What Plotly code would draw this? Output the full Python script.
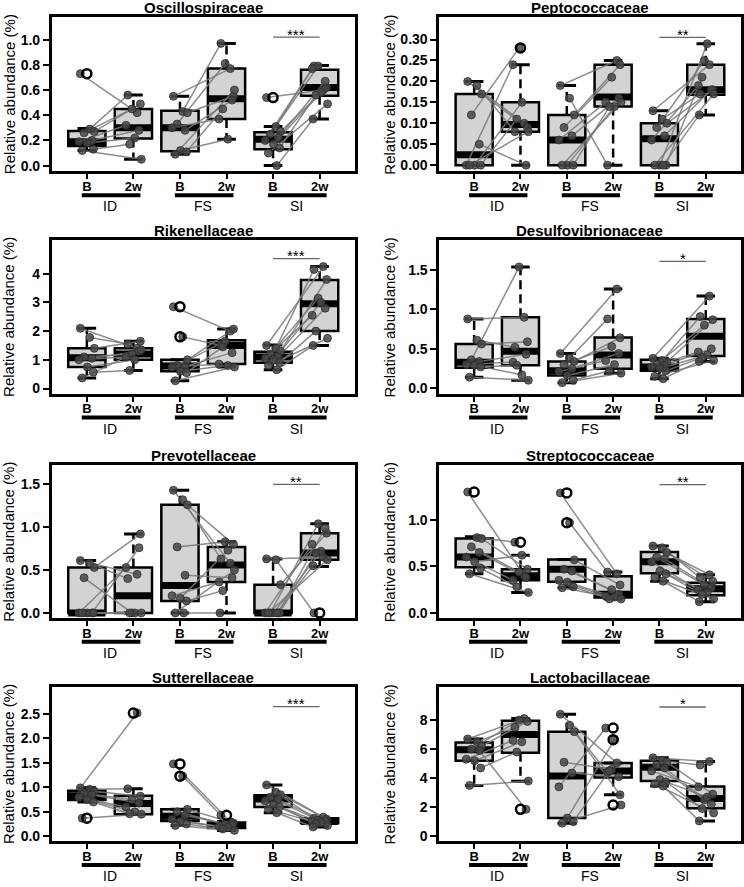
import plotly.graph_objects as go

# ---------------- data ----------------
GROUPS = ["ID", "FS", "SI"]
TICK_TEXT = ["B", "2w", "B", "2w", "B", "2w"]
TITLES = ["Oscillospiraceae", "Peptococcaceae", "Rikenellaceae", "Desulfovibrionaceae",
          "Prevotellaceae", "Streptococcaceae", "Sutterellaceae", "Lactobacillaceae"]
Y_LABEL = "Relative abundance (%)"

# Oscillospiraceae
OSC_ID_B = [0.73, 0.29, 0.27, 0.26, 0.20, 0.19, 0.18, 0.13, 0.12]
OSC_ID_2W = [0.42, 0.56, 0.49, 0.45, 0.28, 0.32, 0.22, 0.17, 0.05]
OSC_FS_B = [0.55, 0.43, 0.42, 0.33, 0.28, 0.30, 0.12, 0.11, 0.09]
OSC_FS_2W = [0.77, 0.97, 0.55, 0.81, 0.52, 0.37, 0.21, 0.45, 0.60]
OSC_SI_B = [0.54, 0.31, 0.27, 0.25, 0.22, 0.20, 0.17, 0.14, 0.10, 0.00]
OSC_SI_2W = [0.60, 0.79, 0.62, 0.79, 0.67, 0.77, 0.58, 0.56, 0.49, 0.37]
OSC_Q1 = [0.155, 0.215, 0.115, 0.37, 0.13, 0.555]
OSC_MED = [0.19, 0.30, 0.30, 0.53, 0.21, 0.62]
OSC_Q3 = [0.275, 0.45, 0.435, 0.77, 0.265, 0.76]
OSC_LO = [0.12, 0.05, 0.09, 0.21, 0.00, 0.37]
OSC_HI = [0.295, 0.56, 0.55, 0.97, 0.31, 0.795]
OSC_SIG_Y, OSC_SIG = 1.02, "***"
OSC_TICKS = [0.0, 0.2, 0.4, 0.6, 0.8, 1.0]

# Peptococcaceae
PEP_ID_B = [0.20, 0.19, 0.17, 0.12, 0.05, 0.0, 0.0, 0.0, 0.0]
PEP_ID_2W = [0.10, 0.08, 0.09, 0.28, 0.00, 0.24, 0.15, 0.11, 0.08]
PEP_FS_B = [0.19, 0.16, 0.12, 0.09, 0.07, 0.06, 0.0, 0.0, 0.0]
PEP_FS_2W = [0.25, 0.00, 0.24, 0.21, 0.16, 0.15, 0.14, 0.14, 0.15]
PEP_SI_B = [0.13, 0.11, 0.10, 0.09, 0.07, 0.06, 0.0, 0.0, 0.0, 0.0]
PEP_SI_2W = [0.24, 0.17, 0.18, 0.25, 0.18, 0.19, 0.29, 0.21, 0.17, 0.12]
PEP_Q1 = [0.0, 0.08, 0.0, 0.14, 0.0, 0.168]
PEP_MED = [0.025, 0.097, 0.06, 0.163, 0.063, 0.18]
PEP_Q3 = [0.17, 0.15, 0.12, 0.24, 0.10, 0.24]
PEP_LO = [0.0, 0.0, 0.0, 0.0, 0.0, 0.12]
PEP_HI = [0.20, 0.24, 0.19, 0.25, 0.13, 0.29]
PEP_SIG_Y, PEP_SIG = 0.305, "**"
PEP_TICKS = [0.0, 0.05, 0.10, 0.15, 0.20, 0.25, 0.30]

# Rikenellaceae
RIK_ID_B = [2.10, 1.78, 1.40, 1.10, 1.05, 1.00, 0.75, 0.57, 0.37]
RIK_ID_2W = [1.40, 1.55, 1.65, 1.20, 1.30, 1.10, 1.00, 0.63, 1.35]
RIK_FS_B = [2.85, 1.80, 1.00, 0.80, 0.77, 0.75, 0.60, 0.55, 0.27]
RIK_FS_2W = [2.00, 1.50, 2.07, 1.65, 1.25, 0.85, 0.80, 1.45, 0.75]
RIK_SI_B = [1.50, 1.40, 1.30, 1.20, 1.10, 1.05, 1.00, 0.90, 0.80, 0.65]
RIK_SI_2W = [4.25, 4.15, 3.80, 3.15, 2.80, 2.55, 3.00, 2.00, 1.75, 1.50]
RIK_Q1 = [0.75, 1.00, 0.60, 0.85, 0.90, 2.00]
RIK_MED = [1.07, 1.20, 0.78, 1.50, 1.10, 2.95]
RIK_Q3 = [1.40, 1.40, 1.00, 1.68, 1.28, 3.78]
RIK_LO = [0.37, 0.63, 0.27, 0.75, 0.65, 1.50]
RIK_HI = [2.10, 1.65, 1.00, 2.07, 1.52, 4.25]
RIK_SIG_Y, RIK_SIG = 4.53, "***"
RIK_TICKS = [0, 1, 2, 3, 4]

# Desulfovibrionaceae
DES_ID_B = [0.88, 0.61, 0.56, 0.36, 0.34, 0.30, 0.29, 0.27, 0.14]
DES_ID_2W = [0.90, 0.52, 0.59, 1.54, 0.43, 0.33, 0.17, 0.29, 0.10]
DES_FS_B = [0.44, 0.38, 0.34, 0.30, 0.25, 0.21, 0.16, 0.10, 0.07]
DES_FS_2W = [1.26, 0.88, 0.64, 0.53, 0.44, 0.35, 0.30, 0.22, 0.19]
DES_SI_B = [0.38, 0.35, 0.33, 0.30, 0.29, 0.27, 0.25, 0.22, 0.15, 0.12]
DES_SI_2W = [1.17, 0.91, 0.87, 0.80, 0.50, 0.46, 0.42, 0.39, 0.35, 0.34]
DES_Q1 = [0.26, 0.29, 0.16, 0.245, 0.22, 0.41]
DES_MED = [0.33, 0.47, 0.22, 0.42, 0.27, 0.66]
DES_Q3 = [0.56, 0.90, 0.34, 0.645, 0.36, 0.88]
DES_LO = [0.14, 0.10, 0.07, 0.19, 0.12, 0.34]
DES_HI = [0.88, 1.54, 0.44, 1.26, 0.38, 1.17]
DES_SIG_Y, DES_SIG = 1.61, "*"
DES_TICKS = [0.0, 0.5, 1.0, 1.5]

# Prevotellaceae
PRE_ID_B = [0.61, 0.58, 0.53, 0.41, 0.0, 0.0, 0.0, 0.0, 0.0]
PRE_ID_2W = [0.45, 0.40, 0.92, 0.00, 0.76, 0.53, 0.0, 0.0, 0.0]
PRE_FS_B = [1.43, 1.32, 1.26, 0.77, 0.44, 0.20, 0.17, 0.14, 0.0, 0.0]
PRE_FS_2W = [0.58, 0.63, 0.80, 0.83, 0.41, 0.36, 0.73, 0.26, 0.50, 0.0]
PRE_SI_B = [0.63, 0.62, 0.33, 0.0, 0.0, 0.0, 0.0, 0.0, 0.0, 0.0]
PRE_SI_2W = [0.65, 0.0, 0.93, 1.04, 0.99, 0.80, 0.72, 0.70, 0.62, 0.55]
PRE_Q1 = [0.0, 0.0, 0.14, 0.36, 0.0, 0.62]
PRE_MED = [0.0, 0.20, 0.32, 0.56, 0.0, 0.70]
PRE_Q3 = [0.53, 0.53, 1.26, 0.77, 0.33, 0.93]
PRE_LO = [0.0, 0.0, 0.0, 0.0, 0.0, 0.54]
PRE_HI = [0.61, 0.92, 1.43, 0.83, 0.63, 1.04]
PRE_SIG_Y, PRE_SIG = 1.50, "**"
PRE_TICKS = [0.0, 0.5, 1.0, 1.5]

# Streptococcaceae
STR_ID_B = [1.30, 0.81, 0.80, 0.71, 0.65, 0.60, 0.55, 0.48, 0.42]
STR_ID_2W = [0.40, 0.76, 0.47, 0.44, 0.38, 0.35, 0.62, 0.28, 0.22]
STR_FS_B = [1.29, 0.97, 0.57, 0.47, 0.45, 0.35, 0.33, 0.28, 0.27]
STR_FS_2W = [0.42, 0.44, 0.30, 0.25, 0.20, 0.18, 0.17, 0.15, 0.15]
STR_SI_B = [0.72, 0.70, 0.65, 0.60, 0.58, 0.55, 0.45, 0.42, 0.38, 0.34]
STR_SI_2W = [0.41, 0.38, 0.34, 0.30, 0.27, 0.25, 0.22, 0.20, 0.15, 0.12]
STR_Q1 = [0.49, 0.35, 0.335, 0.165, 0.425, 0.19]
STR_MED = [0.60, 0.40, 0.47, 0.20, 0.55, 0.26]
STR_Q3 = [0.80, 0.47, 0.575, 0.395, 0.655, 0.325]
STR_LO = [0.42, 0.22, 0.27, 0.15, 0.34, 0.12]
STR_HI = [0.82, 0.62, 0.575, 0.44, 0.72, 0.41]
STR_SIG_Y, STR_SIG = 1.38, "**"
STR_TICKS = [0.0, 0.5, 1.0]

# Sutterellaceae
SUT_ID_B = [0.99, 0.96, 0.92, 0.88, 0.85, 0.80, 0.75, 0.70, 0.37]
SUT_ID_2W = [2.52, 0.97, 0.82, 0.75, 0.68, 0.60, 0.50, 0.46, 0.45]
SUT_FS_B = [1.48, 1.23, 0.55, 0.50, 0.43, 0.35, 0.30, 0.25, 0.22]
SUT_FS_2W = [0.30, 0.43, 0.27, 0.25, 0.22, 0.20, 0.18, 0.15, 0.12]
SUT_SI_B = [1.05, 0.90, 0.85, 0.80, 0.75, 0.72, 0.65, 0.60, 0.55, 0.48]
SUT_SI_2W = [0.39, 0.37, 0.35, 0.33, 0.31, 0.30, 0.28, 0.25, 0.22, 0.19]
SUT_Q1 = [0.74, 0.45, 0.31, 0.17, 0.60, 0.27]
SUT_MED = [0.83, 0.67, 0.41, 0.22, 0.76, 0.30]
SUT_Q3 = [0.93, 0.83, 0.55, 0.28, 0.84, 0.37]
SUT_LO = [0.70, 0.45, 0.22, 0.12, 0.48, 0.19]
SUT_HI = [0.99, 0.97, 0.55, 0.30, 1.05, 0.39]
SUT_SIG_Y, SUT_SIG = 2.65, "***"
SUT_TICKS = [0.0, 0.5, 1.0, 1.5, 2.0, 2.5]

# Lactobacillaceae
LAC_ID_B = [6.7, 6.5, 6.2, 6.0, 5.9, 5.3, 5.2, 4.7, 3.5]
LAC_ID_2W = [8.1, 7.5, 7.9, 8.0, 1.85, 6.6, 6.5, 5.8, 3.8]
LAC_FS_B = [8.4, 7.65, 7.2, 5.1, 4.35, 3.4, 1.25, 1.0, 0.9]
LAC_FS_2W = [5.05, 4.4, 2.85, 4.6, 4.1, 7.45, 6.65, 4.5, 2.15]
LAC_SI_B = [5.4, 5.2, 5.1, 4.9, 4.7, 4.5, 3.9, 3.75, 3.6, 3.45]
LAC_SI_2W = [5.15, 4.9, 2.9, 2.5, 2.2, 3.4, 2.7, 1.9, 1.6, 1.05]
LAC_Q1 = [5.2, 5.75, 1.25, 4.05, 3.8, 1.92]
LAC_MED = [5.95, 7.0, 4.15, 4.5, 4.75, 2.6]
LAC_Q3 = [6.45, 7.95, 7.2, 5.05, 5.2, 3.42]
LAC_LO = [3.5, 3.78, 0.9, 2.85, 3.45, 1.05]
LAC_HI = [6.7, 8.1, 8.4, 5.05, 5.4, 5.15]
LAC_SIG_Y, LAC_SIG = 8.9, "*"
LAC_TICKS = [0, 2, 4, 6, 8]

PANELS = [
    ([OSC_ID_B, OSC_FS_B, OSC_SI_B], [OSC_ID_2W, OSC_FS_2W, OSC_SI_2W],
     OSC_Q1, OSC_MED, OSC_Q3, OSC_LO, OSC_HI, OSC_SIG_Y, OSC_SIG, OSC_TICKS),
    ([PEP_ID_B, PEP_FS_B, PEP_SI_B], [PEP_ID_2W, PEP_FS_2W, PEP_SI_2W],
     PEP_Q1, PEP_MED, PEP_Q3, PEP_LO, PEP_HI, PEP_SIG_Y, PEP_SIG, PEP_TICKS),
    ([RIK_ID_B, RIK_FS_B, RIK_SI_B], [RIK_ID_2W, RIK_FS_2W, RIK_SI_2W],
     RIK_Q1, RIK_MED, RIK_Q3, RIK_LO, RIK_HI, RIK_SIG_Y, RIK_SIG, RIK_TICKS),
    ([DES_ID_B, DES_FS_B, DES_SI_B], [DES_ID_2W, DES_FS_2W, DES_SI_2W],
     DES_Q1, DES_MED, DES_Q3, DES_LO, DES_HI, DES_SIG_Y, DES_SIG, DES_TICKS),
    ([PRE_ID_B, PRE_FS_B, PRE_SI_B], [PRE_ID_2W, PRE_FS_2W, PRE_SI_2W],
     PRE_Q1, PRE_MED, PRE_Q3, PRE_LO, PRE_HI, PRE_SIG_Y, PRE_SIG, PRE_TICKS),
    ([STR_ID_B, STR_FS_B, STR_SI_B], [STR_ID_2W, STR_FS_2W, STR_SI_2W],
     STR_Q1, STR_MED, STR_Q3, STR_LO, STR_HI, STR_SIG_Y, STR_SIG, STR_TICKS),
    ([SUT_ID_B, SUT_FS_B, SUT_SI_B], [SUT_ID_2W, SUT_FS_2W, SUT_SI_2W],
     SUT_Q1, SUT_MED, SUT_Q3, SUT_LO, SUT_HI, SUT_SIG_Y, SUT_SIG, SUT_TICKS),
    ([LAC_ID_B, LAC_FS_B, LAC_SI_B], [LAC_ID_2W, LAC_FS_2W, LAC_SI_2W],
     LAC_Q1, LAC_MED, LAC_Q3, LAC_LO, LAC_HI, LAC_SIG_Y, LAC_SIG, LAC_TICKS),
]

# ---------------- style / layout ----------------
W, H = 744, 887
FONT = "Liberation Sans, Arial, sans-serif"
BOX_FILL = "#d3d3d3"
POINT_COLOR = "rgba(70,70,70,0.85)"
PAIR_COLOR = "rgba(120,120,120,0.85)"
X_RANGE = [0.25, 6.75]
BOX_W = 0.8
CAP_W = 0.4
JIT_B = [-0.14, 0.06, 0.16, -0.06, 0.11, -0.17, 0.01, 0.14, -0.10, 0.08]
JIT_W = [0.08, -0.12, 0.15, -0.03, 0.12, -0.16, 0.03, -0.08, 0.17, -0.14]
Y_RANGES = [[-0.046, 1.18], [-0.015, 0.354], [-0.18, 5.17], [-0.07, 1.88],
            [-0.058, 1.72], [-0.054, 1.586], [-0.10, 3.06], [-0.34, 10.3]]
TICK_FMT = [".1f", ".2f", "d", ".1f", ".1f", ".1f", ".1f", "d"]
COL_X = [(52, 355), (440, 741.5)]
ROW_Y = [(17, 172), (241, 395), (467, 620), (689, 844)]
YLAB_X = [9, 390]

fig = go.Figure()
layout = dict(width=W, height=H, margin=dict(l=0, r=0, t=0, b=0),
              plot_bgcolor="white", paper_bgcolor="white", showlegend=False,
              font=dict(family=FONT, color="black"))
annotations = []
shapes = []


def frac(xv):
    return (xv - X_RANGE[0]) / (X_RANGE[1] - X_RANGE[0])


POS = [1, 2, 3, 4, 5, 6]

for k, (Bs, Ws, q1, med, q3, lo, hi, sig_y, sig_txt, ticks) in enumerate(PANELS, start=1):
    r, c = divmod(k - 1, 2)
    xn = "x" if k == 1 else f"x{k}"
    yn = "y" if k == 1 else f"y{k}"
    xkey = "xaxis" if k == 1 else f"xaxis{k}"
    ykey = "yaxis" if k == 1 else f"yaxis{k}"
    x0, x1 = COL_X[c]
    top, bot = ROW_Y[r]

    axis_common = dict(showline=True, mirror=True, linewidth=3, linecolor="black",
                       showgrid=False, zeroline=False, ticks="outside", ticklen=5,
                       tickwidth=2, tickcolor="black",
                       tickfont=dict(family=FONT, size=14, color="black", weight="bold"))
    layout[xkey] = dict(axis_common, domain=[x0 / W, x1 / W], range=X_RANGE, anchor=yn,
                        tickmode="array", tickvals=POS, ticktext=TICK_TEXT,
                        ticklabelstandoff=-4,
                        tickfont=dict(family=FONT, size=13, color="black", weight="bold"))
    layout[ykey] = dict(axis_common, domain=[1 - bot / H, 1 - top / H], range=Y_RANGES[k - 1],
                        anchor=xn, tickmode="array", tickvals=ticks, tickformat=TICK_FMT[k - 1],
                        ticklen=6)

    # boxes (whiskers drawn separately so they can be dashed)
    fig.add_trace(go.Box(x=POS, q1=q1, median=med, q3=q3, lowerfence=q1, upperfence=q3,
                         width=BOX_W, whiskerwidth=0, fillcolor=BOX_FILL, boxpoints=False,
                         line=dict(color="black", width=2.5), xaxis=xn, yaxis=yn,
                         hoverinfo="skip"))
    wx, wy, cx, cy, mx, my = [], [], [], [], [], []
    for i, p in enumerate(POS):
        wx += [p, p, None, p, p, None]
        wy += [q3[i], hi[i], None, q1[i], lo[i], None]
        cx += [p - CAP_W / 2, p + CAP_W / 2, None, p - CAP_W / 2, p + CAP_W / 2, None]
        cy += [hi[i], hi[i], None, lo[i], lo[i], None]
        mx += [p - BOX_W / 2, p + BOX_W / 2, None]
        my += [med[i], med[i], None]
    fig.add_trace(go.Scatter(x=wx, y=wy, mode="lines", xaxis=xn, yaxis=yn, hoverinfo="skip",
                             line=dict(color="black", width=2.5, dash="9px,5px")))
    fig.add_trace(go.Scatter(x=cx, y=cy, mode="lines", xaxis=xn, yaxis=yn, hoverinfo="skip",
                             line=dict(color="black", width=3)))
    fig.add_trace(go.Scatter(x=mx, y=my, mode="lines", xaxis=xn, yaxis=yn, hoverinfo="skip",
                             line=dict(color="black", width=7)))

    # paired lines and points
    lx, ly, px, py, ox, oy = [], [], [], [], [], []
    for g in range(3):
        pb, pw = POS[2 * g], POS[2 * g + 1]
        for i, (vb, vw) in enumerate(zip(Bs[g], Ws[g])):
            xb = pb + JIT_B[i % len(JIT_B)]
            xw = pw + JIT_W[i % len(JIT_W)]
            lx += [xb, xw, None]
            ly += [vb, vw, None]
            px += [xb, xw]
            py += [vb, vw]
        for j, vals in ((2 * g, Bs[g]), (2 * g + 1, Ws[g])):
            for v in vals:
                if v > hi[j] + 1e-9 or v < lo[j] - 1e-9:
                    ox.append(POS[j])
                    oy.append(v)
    fig.add_trace(go.Scatter(x=lx, y=ly, mode="lines", xaxis=xn, yaxis=yn, hoverinfo="skip",
                             line=dict(color=PAIR_COLOR, width=1.5)))
    fig.add_trace(go.Scatter(x=px, y=py, mode="markers", xaxis=xn, yaxis=yn, hoverinfo="skip",
                             marker=dict(size=8, color=POINT_COLOR,
                                         line=dict(color="rgba(40,40,40,0.9)", width=0.8))))
    fig.add_trace(go.Scatter(x=ox, y=oy, mode="markers", xaxis=xn, yaxis=yn, hoverinfo="skip",
                             marker=dict(size=9, symbol="circle-open", color="black",
                                         line=dict(color="black", width=2.5))))

    # significance bar
    fig.add_trace(go.Scatter(x=[POS[4], POS[5]], y=[sig_y, sig_y], mode="lines",
                             xaxis=xn, yaxis=yn, hoverinfo="skip",
                             line=dict(color="#666666", width=1.3)))
    annotations.append(dict(x=(POS[4] + POS[5]) / 2, y=sig_y, xref=xn, yref=yn, text=sig_txt,
                            showarrow=False, yanchor="middle", yshift=3,
                            font=dict(family=FONT, size=15, color="black")))

    # title
    annotations.append(dict(x=0.5, y=1 - (top - 9.5) / H, xref=f"{xn} domain", yref="paper",
                            text=TITLES[k - 1], showarrow=False, yanchor="middle",
                            font=dict(family=FONT, size=15, color="black", weight="bold")))
    # y label
    annotations.append(dict(x=YLAB_X[c] / W, y=0.5, xref="paper", yref=f"{yn} domain",
                            text=Y_LABEL, showarrow=False, textangle=-90,
                            xanchor="center", yanchor="middle",
                            font=dict(family=FONT, size=15, color="black")))
    # group bars and labels
    for g, name in enumerate(GROUPS):
        pb, pw = POS[2 * g], POS[2 * g + 1]
        ybar = 1 - (bot + 24) / H
        shapes.append(dict(type="line", xref=f"{xn} domain", yref="paper",
                           x0=frac(pb - 0.11), x1=frac(pw + 0.15), y0=ybar, y1=ybar,
                           line=dict(color="black", width=4)))
        annotations.append(dict(x=(pb + pw) / 2, y=1 - (bot + 35) / H, xref=xn, yref="paper",
                                text=name, showarrow=False, yanchor="middle",
                                font=dict(family=FONT, size=14, color="black")))

layout["annotations"] = annotations
layout["shapes"] = shapes
fig.update_layout(**layout)
fig.write_html("out.html", config={"displayModeBar": False},
               post_script="document.body.style.margin='0px';document.body.style.overflow='hidden';")
